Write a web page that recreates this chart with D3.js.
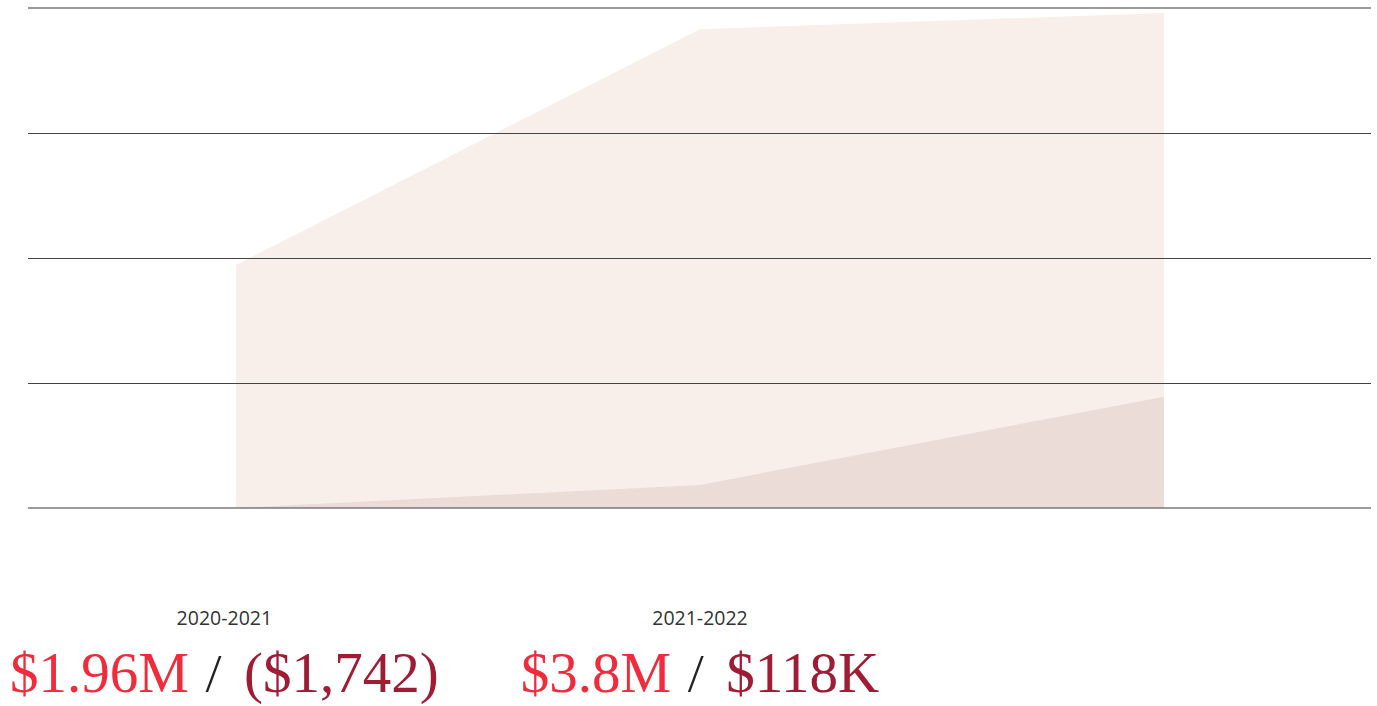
<!DOCTYPE html>
<html><head><meta charset="utf-8">
<script src="https://cdn.jsdelivr.net/npm/d3@7"></script>
<style>html,body{margin:0;padding:0;background:#fff;}svg{display:block;}</style>
</head><body>
<svg id="chart" width="1377" height="706"></svg>
<script>
// Data (values in dollars)
const periods = ["2020-2021", "2021-2022", "2022-2023"];
const revenue = [1944000, 3830000, 3960000];
const netIncome = [-1742, 185000, 890000];
const gridTicks = [0, 1000000, 2000000, 3000000, 4000000];
const labelPeriods = ["2020-2021", "2021-2022"];
const revenueLabels = ["$1.96M", "$3.8M"];
const netLabels = ["($1,742)", "$118K"];

const svg = d3.select("#chart");
const x = d3.scalePoint().domain(periods).range([236, 1164]);
const y = d3.scaleLinear().domain([0, 4000000]).range([508, 8]);

const rows = periods.map((p, i) => ({p, rev: revenue[i], net: netIncome[i]}));

const area = key => d3.area()
  .x(d => x(d.p))
  .y0(y(0))
  .y1(d => y(Math.max(0, d[key])))
  .curve(d3.curveLinear);

svg.append("path").datum(rows).attr("d", area("rev")).attr("fill", "#f9efea");
svg.append("path").datum(rows).attr("d", area("net")).attr("fill", "#ecdcd8");

// gridlines
const edge = d => d === 0 || d === 4000000;
svg.append("g").selectAll("line").data(gridTicks).join("line")
  .attr("x1", 28).attr("x2", 1371)
  .attr("y1", d => edge(d) ? y(d) : Math.round(y(d)) + 0.5)
  .attr("y2", d => edge(d) ? y(d) : Math.round(y(d)) + 0.5)
  .attr("stroke", d => edge(d) ? "#7a7a7a" : "#444")
  .attr("stroke-width", d => edge(d) ? 1.6 : 1);

// labels
labelPeriods.forEach((p, i) => {
  const g = svg.append("g");
  g.append("text")
    .attr("x", 0).attr("y", 625)
    .attr("text-anchor", "middle")
    .attr("font-family", "'Open Sans', sans-serif")
    .attr("font-size", 19.5)
    .attr("fill", "#333")
    .text(p);
  const t = g.append("text")
    .attr("x", 0).attr("y", 692)
    .attr("text-anchor", "middle")
    .attr("font-family", "'Liberation Serif', serif")
    .attr("font-size", 57);
  t.append("tspan").attr("fill", "#ef2b3c").text(revenueLabels[i]);
  t.append("tspan").attr("dx", 16).attr("fill", "#222")
    .attr("font-family", "'Open Sans', sans-serif").attr("font-size", 50).attr("font-weight", 300).text("/");
  t.append("tspan").attr("dx", 22).attr("fill", "#a01c34").text(netLabels[i]);
  const bb = t.node().getBBox();
  let cx = x(p);
  // keep the first group from crowding the left margin
  if (cx + bb.x < 30) cx = 10 - bb.x;
  g.attr("transform", `translate(${cx},0)`);
});
</script>
</body></html>
